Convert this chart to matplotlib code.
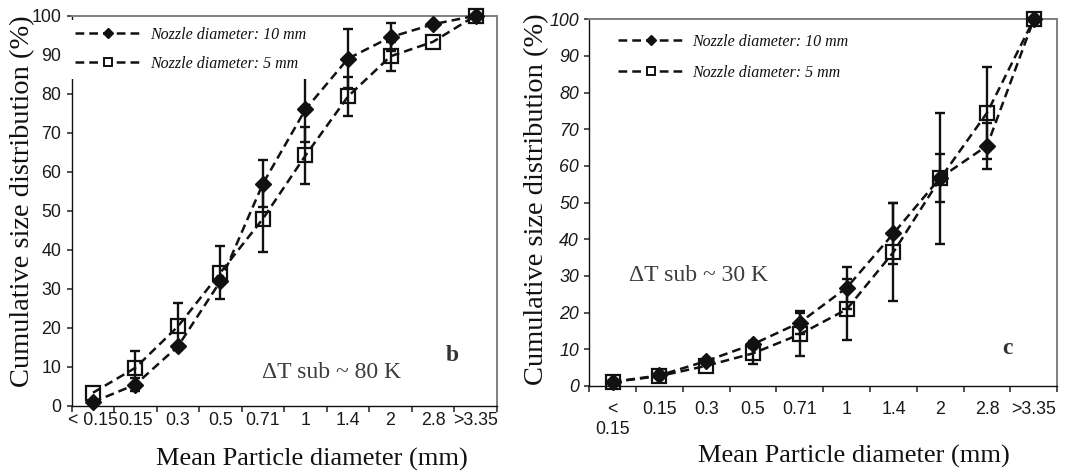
import numpy as np
import matplotlib
matplotlib.use("Agg")
import matplotlib.pyplot as plt
from matplotlib.lines import Line2D

# Sieve classes (mm)
classes_b = ['< 0.15', '0.15', '0.3', '0.5', '0.71', '1', '1.4', '2', '2.8', '>3.35']
classes_c = ['<\n0.15', '0.15', '0.3', '0.5', '0.71', '1', '1.4', '2', '2.8', '>3.35']

# Panel b: subcooling ~80 K, cumulative size distribution (%)
nozzle10_b = [1.0, 5.5, 15.3, 32.0, 57.0, 76.0, 89.0, 94.5, 97.8, 100.0]
nozzle5_b = [3.4, 9.8, 20.4, 34.2, 48.0, 64.2, 79.3, 89.6, 93.3, 100.0]
err10_b = [0, 1.6, 0, 0, 6.0, 8.3, 7.6, 3.5, 0, 0]
err5_b = [0, 4.3, 6.1, 6.9, 8.5, 7.2, 5.1, 3.7, 0, 0]

# Panel c: subcooling ~30 K
nozzle10_c = [1.1, 2.9, 6.8, 11.4, 17.3, 26.8, 41.6, 56.8, 65.5, 100.0]
nozzle5_c = [1.1, 2.7, 5.5, 8.9, 14.1, 20.9, 36.5, 56.6, 74.5, 100.0]
err10_c = [0, 0, 0, 1.0, 3.2, 5.7, 8.4, 6.5, 6.2, 0]
err5_c = [0, 0, 0, 2.8, 5.9, 8.4, 13.3, 17.8, 12.6, 0]

series_labels = ['Nozzle diameter: 10 mm', 'Nozzle diameter: 5 mm']

SANS = 'Liberation Sans'
SERIF = 'Liberation Serif'
DASH = (0, (3.5, 2.0))
GREY = '#7f7f7f'
INK = '#111111'


def draw_panel(ax, classes, y10, y5, e10, e5, italic_ticks, xpad, ylab_xy, tag, tag_xy, note, note_xy,
               legend_anchor, legend_spacing, xlab_y):
    x = np.arange(len(classes))
    # error bars only where a spread was measured
    for y, e in ((y10, e10), (y5, e5)):
        y = np.asarray(y, float)
        e = np.asarray(e, float)
        m = e > 0
        ax.errorbar(x[m], y[m], yerr=e[m], fmt='none', ecolor=INK, elinewidth=1.7,
                    capsize=3.8, capthick=1.7, zorder=3, clip_on=False)
    ax.plot(x, y5, linestyle=DASH, color=INK, lw=1.8, marker='s', markersize=10,
            markerfacecolor='none', markeredgecolor=INK, markeredgewidth=1.6,
            zorder=4, clip_on=False)
    ax.plot(x, y10, linestyle=DASH, color=INK, lw=1.8, marker='D', markersize=8.5,
            markerfacecolor=INK, markeredgecolor=INK, zorder=4, clip_on=False)

    ax.set_xlim(-0.5, len(classes) - 0.5)
    ax.set_ylim(0, 100)
    ax.set_yticks(np.arange(0, 101, 10))
    ax.set_xticks(x)
    ax.set_xticklabels(classes)
    ax.set_xticks(np.arange(-0.5, len(classes), 1.0), minor=True)
    ax.tick_params(axis='x', which='major', length=0, pad=xpad, labelsize=12.8)
    ax.tick_params(axis='x', which='minor', length=4, width=1.1, direction='out', color='#222222')
    ax.tick_params(axis='y', which='major', length=3.5, width=1.1, direction='out', pad=4,
                   labelsize=12.8, color='#222222')
    for lab in ax.get_xticklabels() + ax.get_yticklabels():
        lab.set_fontfamily(SANS)
        lab.set_color('#1a1a1a')
    if italic_ticks:
        for lab in ax.get_yticklabels():
            lab.set_fontstyle('italic')

    for side in ('left', 'bottom'):
        ax.spines[side].set_color(INK)
        ax.spines[side].set_linewidth(1.0)
    for side in ('top', 'right'):
        ax.spines[side].set_color(GREY)
        ax.spines[side].set_linewidth(1.4)

    ax.set_ylabel('Cumulative size distribution (%)', fontfamily=SERIF, fontsize=20.5, color=INK)
    ax.yaxis.set_label_coords(*ylab_xy)
    ax.yaxis.label.set_va('center')
    ax.set_xlabel('Mean Particle diameter (mm)', fontfamily=SERIF, fontsize=19, color=INK)
    ax.xaxis.set_label_coords(0.566, xlab_y)
    ax.xaxis.label.set_va('center')

    ax.text(tag_xy[0], tag_xy[1], tag, transform=ax.transAxes, fontfamily=SERIF, fontweight='bold',
            fontsize=17, color='#333333', ha='center', va='center')
    ax.text(note_xy[0], note_xy[1], note, transform=ax.transAxes, fontfamily=SERIF,
            fontsize=17, color='#3c3c3c', ha='center', va='center')

    handles = [
        Line2D([], [], linestyle=DASH, color=INK, lw=1.8, marker='D', markersize=5.5,
               markerfacecolor=INK, markeredgecolor=INK),
        Line2D([], [], linestyle=DASH, color=INK, lw=1.8, marker='s', markersize=6,
               markerfacecolor='white', markeredgecolor=INK, markeredgewidth=1.4),
    ]
    leg = ax.legend(handles, series_labels, loc='upper left', bbox_to_anchor=legend_anchor,
                    prop={'family': SERIF, 'style': 'italic', 'size': 11.5}, numpoints=1,
                    handlelength=4.2, handletextpad=0.5, labelspacing=legend_spacing, borderpad=0.45,
                    frameon=True, facecolor='white', edgecolor='none', framealpha=1.0,
                    fancybox=False, borderaxespad=0)
    for t in leg.get_texts():
        t.set_color(INK)


fig = plt.figure(figsize=(10.66, 4.74), dpi=100)
ax_b = fig.add_axes([0.0673, 0.1435, 0.3987, 0.8234])
ax_c = fig.add_axes([0.5528, 0.1857, 0.4390, 0.7736])

draw_panel(ax_b, classes_b, nozzle10_b, nozzle5_b, err10_b, err5_b, False, 4.5, (-0.115, 0.525),
           'b', (0.896, 0.13), '\u0394T sub ~ 80 K', (0.611, 0.086), (-0.01, 0.99), 0.8, -0.138)
draw_panel(ax_c, classes_c, nozzle10_c, nozzle5_c, err10_c, err5_c, True, 11, (-0.113, 0.51),
           'c', (0.893, 0.102), '\u0394T sub ~ 30 K', (0.233, 0.302), (0.045, 0.98), 0.95, -0.193)

fig.savefig('out.png', dpi=100, facecolor='white')
